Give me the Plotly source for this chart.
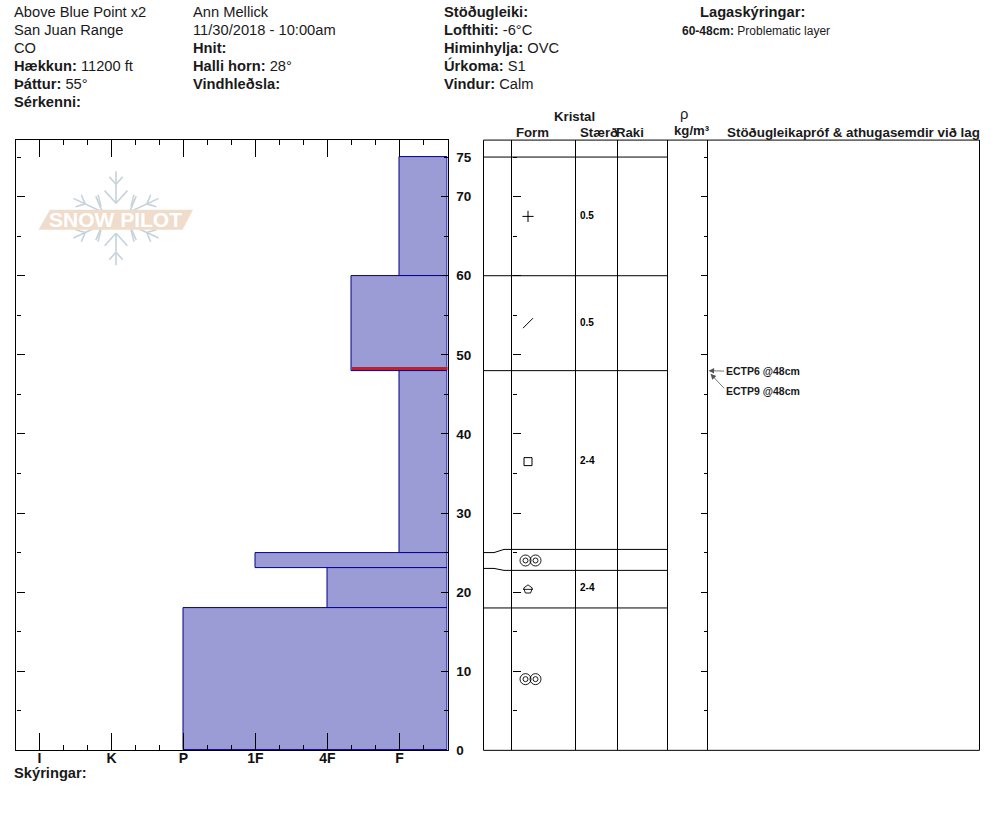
import math
import plotly.graph_objects as go

W, H = 994, 840
H_VIS = 833  # height the photographed page actually spans

def px(x):
    return x / W
def py(y):
    return 1 - y / H_VIS

# ---- data ----
layer_top = [75, 60, 48, 25, 23, 18]
layer_bottom = [60, 48, 25, 23, 18, 0]
layer_shift_top = [75, 60, 48, 25.4, 22.75, 18]
layer_hardness = [6, 5 + 1 / 3, 6, 4, 5, 3]
hardness_labels = ["I", "K", "P", "1F", "4F", "F"]
hardness_vals = [1, 2, 3, 4, 5, 6]
depth_ticks = [0, 10, 20, 30, 40, 50, 60, 70]
depth_minor = [5, 15, 25, 35, 45, 55, 65, 75]
depth_labels = [0, 10, 20, 30, 40, 50, 60, 70, 75]
grain_size = ["0.5", "0.5", "2-4", "", "2-4", ""]
problem_top, problem_bottom = 48.45, 48.12

# frame
L0, L1, T0, B0 = 15.5, 447.5, 140.25, 751.25
R0, R1 = 483.5, 979.5
col_edges = [511.5, 575.5, 617.5, 667.5, 707.5]
HMIN, HMAX = 2 / 3, 6 + 2 / 3
DMIN = 0
DMAX = (B0 - T0) / 7.92

fig = go.Figure()

mid = [(a + b) / 2 for a, b in zip(layer_top, layer_bottom)]
thick = [a - b for a, b in zip(layer_top, layer_bottom)]
fig.add_trace(go.Bar(
    orientation="h", y=mid, width=thick, base=layer_hardness,
    x=[HMAX - h for h in layer_hardness],
    marker=dict(color="#9b9bd6", line=dict(color="#000090", width=1)),
    xaxis="x", yaxis="y", showlegend=False))
fig.add_trace(go.Bar(
    orientation="h", y=[(problem_top + problem_bottom) / 2],
    width=[problem_top - problem_bottom], base=[layer_hardness[1]],
    x=[HMAX - layer_hardness[1]],
    marker=dict(color="#c0202a", line=dict(width=0)),
    xaxis="x", yaxis="y", showlegend=False))

ticks_x = dict(tickvals=hardness_vals, ticks="inside", ticklen=17, tickcolor="black", tickwidth=1,
               minor=dict(tickvals=[h / 3 for h in range(2, 21) if h % 3], ticks="inside", ticklen=5,
                          tickcolor="black", tickwidth=1))

# layer lines in the crystal table
xs_table = []
ys_table = []
for t, s in zip(layer_top, layer_shift_top):
    xs_table += [R0, 494, 504, col_edges[0], col_edges[3], None]
    ys_table += [t, t, s, s, s, None]
fig.add_trace(go.Scatter(x=xs_table, y=ys_table, mode="lines", line=dict(color="black", width=1),
                         xaxis="x2", yaxis="y", showlegend=False, hoverinfo="skip"))

# grain sizes
fig.add_trace(go.Scatter(x=[580] * 6, y=mid, mode="text", text=grain_size, textposition="middle right",
                         textfont=dict(family="Liberation Sans", size=10, color="black", weight="bold"),
                         xaxis="x2", yaxis="y", showlegend=False))

# grain form symbols
form_x = 528
def sym(x, y, symbol, size, width=1):
    fig.add_trace(go.Scatter(x=x, y=y, mode="markers",
                             marker=dict(symbol=symbol, size=size, color="black",
                                         line=dict(color="black", width=width)),
                             xaxis="x2", yaxis="y", showlegend=False, hoverinfo="skip"))
sym([form_x], [mid[0]], "cross-thin-open", 8)
sym([form_x], [mid[1]], "line-ne-open", 10)
sym([form_x], [mid[2]], "square-open", 8)
for m in (mid[3], mid[5]):
    sym([form_x - 2.5, form_x + 7.5], [m, m], "circle-open", 11, 0.9)
    sym([form_x - 2.5, form_x + 7.5], [m, m], "circle-open", 5, 0.9)
sym([form_x], [mid[4] - 0.15], "pentagon-open", 9, 0.9)
sym([form_x], [mid[4] - 0.15], "line-ew-open", 7, 0.9)

dom_l = [px(L0), px(L1)]
dom_r = [px(R0), px(R1)]
dom_y = [py(B0), py(T0)]

def depth_axis(pos, side, lmaj, lmin):
    return dict(range=[DMIN, DMAX], showgrid=False, zeroline=False, showticklabels=False,
                overlaying="y", anchor="free", tickvals=depth_ticks, ticks="inside", tickcolor="black",
                tickwidth=1, showline=False, position=pos, side=side, ticklen=lmaj,
                minor=dict(tickvals=depth_minor, ticks="inside", ticklen=lmin, tickcolor="black", tickwidth=1))

for xa, ya in (("x3", "y"), ("x", "y3"), ("x", "y4"), ("x", "y5"), ("x", "y6")):
    fig.add_trace(go.Scatter(x=[1], y=[0], mode="markers", marker=dict(opacity=0, size=1),
                             xaxis=xa, yaxis=ya, showlegend=False, hoverinfo="skip"))

fig.update_layout(
    width=W, height=H, autosize=False,
    margin=dict(l=0, r=0, t=0, b=0),
    paper_bgcolor="white", plot_bgcolor="white",
    font=dict(family="Liberation Sans", color="black"),
    bargap=0, barmode="overlay", showlegend=False,
    xaxis=dict(domain=dom_l, range=[HMIN, HMAX], anchor="y", showgrid=False, zeroline=False,
               showline=True, linecolor="black", linewidth=1, mirror=True,
               ticktext=hardness_labels,
               tickfont=dict(size=14, family="Liberation Sans", weight="bold", color="#111"),
               ticklabelstandoff=-5, **ticks_x),
    xaxis3=dict(domain=dom_l, range=[HMIN, HMAX], anchor="y", overlaying="x", side="top", showgrid=False,
                zeroline=False, showticklabels=False, **ticks_x),
    yaxis=dict(domain=dom_y, range=[DMIN, DMAX], anchor="x", side="right", showgrid=False, zeroline=False,
               showline=True, linecolor="black", linewidth=1, mirror=True,
               ticks="", tickvals=depth_labels, ticktext=[str(v) for v in depth_labels],
               tickfont=dict(size=13.5, family="Liberation Sans", weight="bold", color="#111"),
               ticklabelstandoff=5),
    yaxis3=depth_axis(px(L0), "left", 8, 4),
    yaxis4=depth_axis(px(L1), "right", 7, 4),
    yaxis5=depth_axis(px(col_edges[0]), "left", 8, 4),
    yaxis6=depth_axis(px(col_edges[4]), "right", 7, 4),
    xaxis2=dict(domain=dom_r, range=[R0, R1], anchor="y", showgrid=True, gridcolor="black", gridwidth=1,
                tickvals=col_edges, showticklabels=False, ticks="", zeroline=False, showline=False),
)
fig.add_shape(type="rect", xref="paper", yref="paper", x0=px(R0), x1=px(R1), y0=py(B0), y1=py(T0),
              line=dict(color="black", width=1))

# ---- logo ----
FLAKE = "#c6d3db"
def seg(x0, y0, x1, y1, w=1.6):
    fig.add_shape(type="line", xref="paper", yref="paper", x0=px(x0), y0=py(y0), x1=px(x1), y1=py(y1),
                  line=dict(color=FLAKE, width=w))
CX, CY = 116, 218.5
for deg, r in ((90, 47), (270, 47), (25, 47), (155, 47), (205, 47), (335, 47)):
    a = math.radians(deg)
    ux, uy = math.cos(a), -math.sin(a)
    seg(CX + ux * 15, CY + uy * 15, CX + ux * r, CY + uy * r)
    for rr, ln in ((r - 32, 17), (r - 13, 10)):
        bx, by = CX + ux * rr, CY + uy * rr
        for sgn in (-1, 1):
            b = a + sgn * math.radians(42)
            seg(bx, by, bx + math.cos(b) * ln, by - math.sin(b) * ln)
for x0, y0, x1, y1 in ((98, 195, 101, 207), (134, 195, 131, 207), (98, 242, 101, 230), (134, 242, 131, 230)):
    seg(x0, y0, x1, y1)
fig.add_shape(type="path", xref="paper", yref="paper", layer="above", line=dict(width=0), fillcolor="#f0dccb",
              path=f"M {px(38.5)} {py(230)} L {px(50)} {py(210)} L {px(193)} {py(210)} L {px(182.5)} {py(230)} Z")

def T(x, y, s, size=14.7, anchor="left", color="#1a1a1a"):
    fig.add_annotation(x=px(x - 1), y=py(y), xref="paper", yref="paper", text=s, showarrow=False,
                       xanchor=anchor, yanchor="middle", align="left", borderpad=0,
                       font=dict(family="Liberation Sans", size=size, color=color))

T(116, 220, "<b>SNOW PILOT</b>", size=21, anchor="center", color="#ffffff")

header_left = ["Above Blue Point x2", "San Juan Range", "CO", "<b>Hækkun:</b> 11200 ft", "<b>Þáttur:</b> 55°", "<b>Sérkenni:</b>"]
header_mid = ["Ann Mellick", "11/30/2018 - 10:00am", "<b>Hnit:</b>", "<b>Halli horn:</b> 28°", "<b>Vindhleðsla:</b>"]
header_right = ["<b>Stöðugleiki:</b>", "<b>Lofthiti:</b> -6°C", "<b>Himinhylja:</b> OVC", "<b>Úrkoma:</b> S1", "<b>Vindur:</b> Calm"]
row_y = [12, 30, 48, 66, 84, 102]
for s, y in zip(header_left, row_y):
    T(14, y, s)
for s, y in zip(header_mid, row_y):
    T(193, y, s)
for s, y in zip(header_right, row_y):
    T(444, y, s)
T(700, 12, "<b>Lagaskýringar:</b>")
T(682, 31, "<b>60-48cm:</b> Problematic layer", size=12)
T(14, 774, "<b>Skýringar:</b>")
T(554, 117, "<b>Kristal</b>", size=13.2)
T(516, 133, "<b>Form</b>", size=13.2)
T(580, 133, "<b>Stærð</b>", size=13.2)
T(616, 133, "<b>Raki</b>", size=13.2)
T(685, 114.5, "ρ", anchor="center")
T(693, 130.5, "<b>kg/m³</b>", size=13.2, anchor="center")
T(727, 133, "<b>Stöðugleikapróf &amp; athugasemdir við lag</b>", size=13.4)
T(726, 371, "<b>ECTP6 @48cm</b>", size=10.5)
T(726, 391, "<b>ECTP9 @48cm</b>", size=10.5)

# test arrows
for ax, ay, hx, hd in ((17, 0.5, 708.5, 48), (15, 16, 710.5, 47.6)):
    fig.add_annotation(x=hx, y=hd, xref="x2", yref="y", ax=ax, ay=ay, axref="pixel", ayref="pixel",
                       text="", showarrow=True, arrowhead=2, arrowsize=1.4, arrowwidth=0.8, arrowcolor="#555")

fig.write_html("out.html", config=dict(displayModeBar=False),
               post_script="document.body.style.margin='0';document.documentElement.style.overflow='hidden';")
